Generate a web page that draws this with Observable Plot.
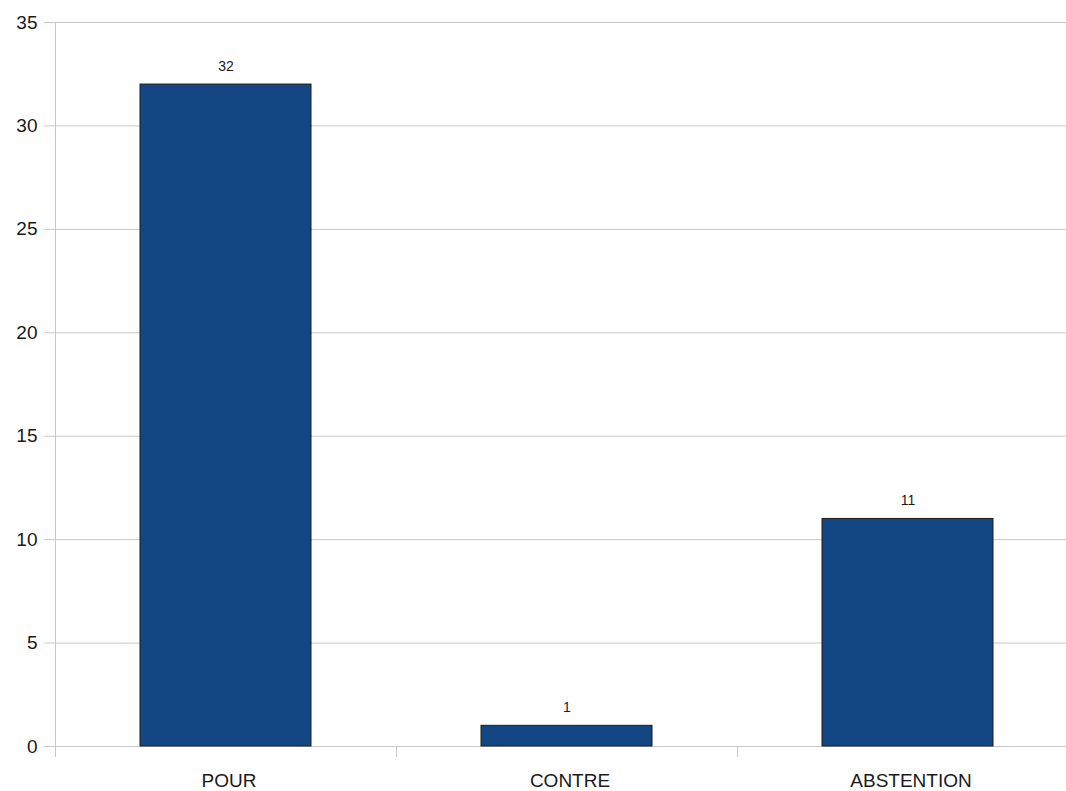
<!DOCTYPE html>
<html>
<head>
<meta charset="utf-8">
<script src="https://cdn.jsdelivr.net/npm/d3@7"></script>
<script src="https://cdn.jsdelivr.net/npm/@observablehq/plot@0.6"></script>
<style>
  html, body { margin: 0; padding: 0; background: #fff; }
  svg { display: block; }
</style>
</head>
<body>
<div id="chart"></div>
<script>
const categories = ["POUR", "CONTRE", "ABSTENTION"];
const values = [32, 1, 11];
const yTicks = [0, 5, 10, 15, 20, 25, 30, 35];

const data = categories.map((c, i) => ({category: c, value: values[i]}));

const gridColor = "#c8c8c8";
const font = "'Liberation Sans', Arial, sans-serif";

// Category separator ticks on the x axis, placed at band boundaries via a d3 band scale
function bandSeparators(index, scales, values, dims) {
  const xb = d3.scaleBand(categories, [dims.marginLeft, dims.width - dims.marginRight])
    .paddingInner(0.5).paddingOuter(0.25);
  const y0 = scales.y(0);
  const g = d3.create("svg:g");
  categories.slice(1).forEach(c => {
    const bx = Math.round(xb(c) - xb.step() * 0.25) + 0.5;
    g.append("line")
      .attr("x1", bx).attr("x2", bx)
      .attr("y1", y0).attr("y2", y0 + 11)
      .attr("stroke", gridColor).attr("stroke-width", 1);
  });
  // vertical axis line extended below zero
  const ax = dims.marginLeft + 0.5;
  g.append("line")
    .attr("x1", ax).attr("x2", ax)
    .attr("y1", scales.y(35)).attr("y2", y0 + 11)
    .attr("stroke", gridColor).attr("stroke-width", 1);
  return g.node();
}

const chart = Plot.plot({
  width: 1066,
  height: 791,
  marginTop: 22,
  marginBottom: 45,
  marginLeft: 55,
  marginRight: -12,
  style: {fontFamily: font, fontSize: "19px", color: "#1a1a1a", background: "#fff"},
  x: {domain: categories, paddingInner: 0.5, paddingOuter: 0.25, label: null},
  y: {domain: [0, 35], label: null},
  marks: [
    Plot.ruleY(yTicks, {stroke: gridColor, strokeWidth: 1}),
    Plot.axisY({ticks: yTicks, tickSize: 11, tickPadding: 7, stroke: gridColor, fontSize: 19, fill: "#1a1a1a", tickFormat: d => d}),
    Plot.axisX({tickSize: 0, tickPadding: 27, fontSize: 19, fill: "#1a1a1a", dx: 3}),
    bandSeparators,
    Plot.barY(data, {x: "category", y: "value", fill: "#134783", stroke: "#1c1c1c", strokeWidth: 1}),
    Plot.text(data, {x: "category", y: "value", text: d => String(d.value), dy: -18, fontSize: 14, fill: "#1a1a1a"})
  ]
});
document.getElementById("chart").appendChild(chart);
</script>
</body>
</html>
